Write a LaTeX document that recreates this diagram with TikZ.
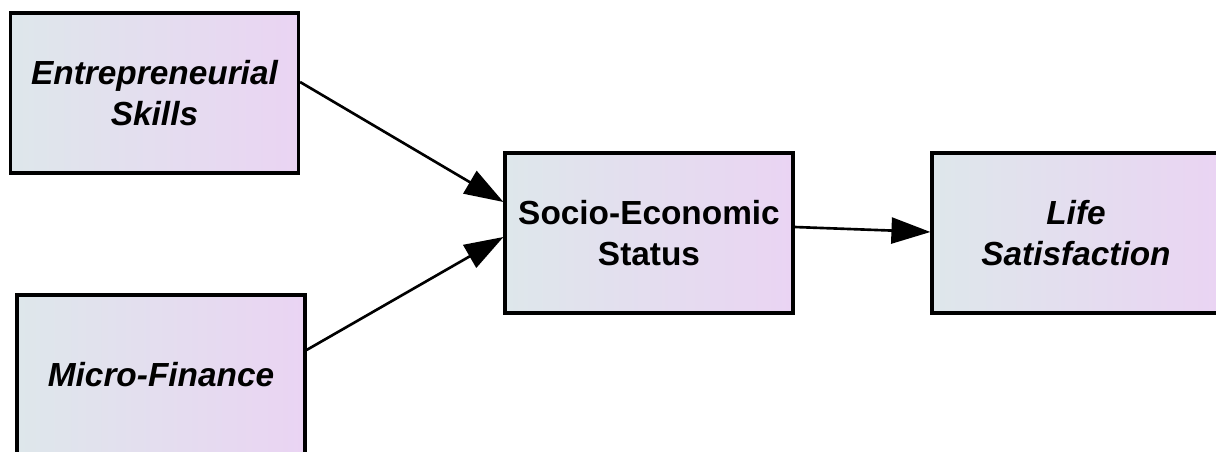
\documentclass[tikz,border=0pt]{standalone}
\usepackage{fontspec}
\setmainfont{Liberation Sans}
\usepackage{tikz}
\usetikzlibrary{arrows.meta, positioning, calc}
\definecolor{boxleft}{RGB}{222,231,235}
\definecolor{boxright}{RGB}{234,212,243}
\tikzset{
  var/.style={rectangle, draw=black, left color=boxleft, right color=boxright,
    minimum width=288*0.02cm, minimum height=160*0.02cm, align=center,
    line width=1.8pt, font=\fontsize{19}{23.5}\selectfont\bfseries\itshape},
  medvar/.style={var, font=\fontsize{19}{23.5}\selectfont\bfseries},
  path/.style={-{Triangle[length=0.78cm, width=0.52cm]}, line width=1.5pt, color=black}
}

\begin{document}
\begin{tikzpicture}[x=0.02cm, y=-0.02cm]
  \useasboundingbox (0,0) rectangle (1216,452);
  % predictors
  \node[var] (skills) at (154.5,93) {Entrepreneurial\\Skills};
  \node[var] (finance) at (161,375) {Micro-Finance};
  % mediator
  \node[medvar] (ses) at (649,233) {Socio-Economic\\Status};
  % outcome
  \node[var] (life) at (1076,233) {Life\\Satisfaction};

  \draw[path] ($(skills.east)+(0,-11)$) -- ($(ses.west)+(0,-31)$);
  \draw[path] ($(finance.east)+(0,-25)$) -- ($(ses.west)+(0,4)$);
  \draw[path] ($(ses.east)+(0,-6)$) -- ($(life.west)+(0,-1)$);
\end{tikzpicture}
\end{document}
